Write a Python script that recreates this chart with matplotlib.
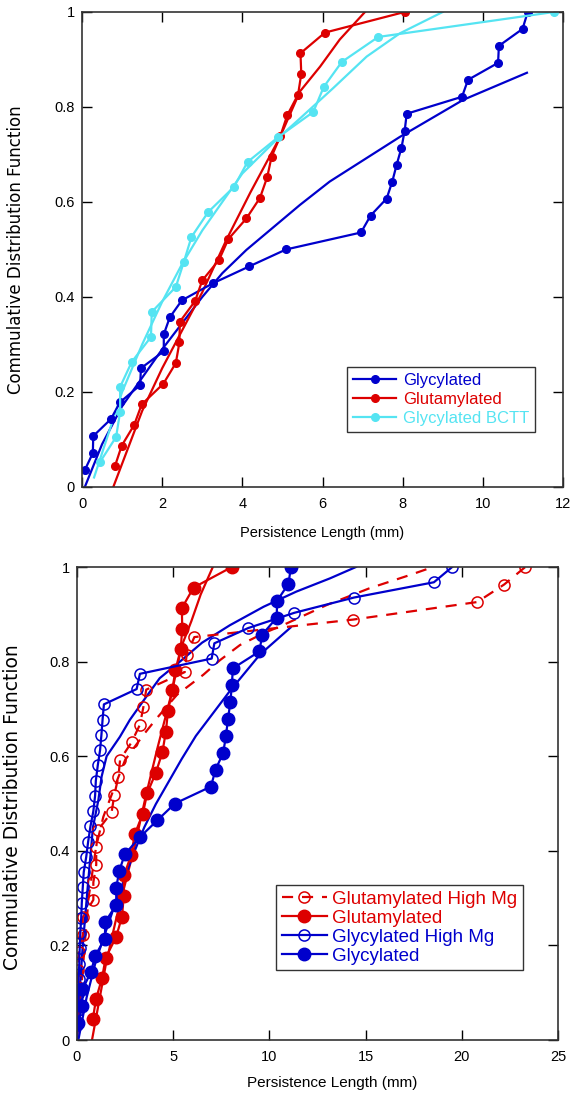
import numpy as np
import matplotlib
matplotlib.use("Agg")
from matplotlib import pyplot as plt

plt.rcParams['font.family'] = ['Liberation Sans', 'DejaVu Sans']

BLUE = '#0000cc'
RED = '#dd0000'
CYAN = '#55e4f2'

# persistence length (mm) of each filament, sorted; CDF step = 1/n
gly_x = [0.07, 0.27, 0.28, 0.72, 0.95, 1.45, 1.47, 2.04, 2.04, 2.19, 2.49, 3.26, 4.17, 5.09,
         6.96, 7.20, 7.60, 7.74, 7.85, 7.97, 8.05, 8.10, 9.48, 9.63, 10.38, 10.40, 10.99, 11.12]
glu_x = [0.82, 0.99, 1.30, 1.49, 2.03, 2.34, 2.43, 2.44, 2.82, 3.00, 3.42, 3.65, 4.10, 4.44,
         4.62, 4.73, 4.95, 5.12, 5.39, 5.47, 5.45, 6.06, 8.05]
bctt_x = [0.45, 0.85, 0.95, 0.95, 1.24, 1.72, 1.74, 2.34, 2.54, 2.73, 3.15, 3.79, 4.13, 4.90,
          5.77, 6.03, 6.48, 7.39, 11.78]
gly_mg_x = [0.02, 0.03, 0.05, 0.08, 0.12, 0.14, 0.17, 0.22, 0.25, 0.30, 0.35, 0.48, 0.58, 0.70,
            0.85, 0.94, 0.98, 1.08, 1.20, 1.27, 1.33, 1.40, 3.10, 3.27, 7.00, 7.14, 8.90, 11.30,
            14.40, 18.55, 19.50]
glu_mg_x = [0.05, 0.06, 0.05, 0.07, 0.10, 0.30, 0.30, 0.85, 0.85, 1.00, 1.00, 1.10, 1.80, 1.94,
            2.15, 2.24, 2.84, 3.27, 3.45, 3.60, 5.60, 5.70, 6.10, 14.36, 20.80, 22.20, 23.30]

# fitted distribution curves (x, F)
gly_fit_x = [0.07, 0.5, 1.0, 1.5, 2.0, 2.5, 3.0, 3.5, 4.1, 5.44, 6.18, 7.93, 9.51, 11.1]
gly_fit_y = [0.0, 0.09, 0.17, 0.23, 0.29, 0.345, 0.40, 0.45, 0.499, 0.594, 0.643, 0.737, 0.815, 0.872]
glu_fit_x = [0.78, 1.5, 2.0, 2.5, 3.0, 3.6, 4.2, 4.93, 5.44, 5.94, 6.43, 7.06]
glu_fit_y = [0.0, 0.16, 0.25, 0.33, 0.41, 0.52, 0.62, 0.735, 0.833, 0.885, 0.942, 1.0]
bctt_fit_x = [0.3, 1.0, 1.5, 2.0, 2.5, 3.0, 3.5, 4.0, 4.9, 5.44, 6.27, 7.1, 7.93, 9.0]
bctt_fit_y = [0.02, 0.2, 0.3, 0.39, 0.47, 0.54, 0.6, 0.66, 0.735, 0.776, 0.84, 0.906, 0.955, 1.0]
gly_mg_fit_x = [0.0, 0.1, 0.3, 0.55, 0.83, 1.11, 1.28, 1.54, 2.23, 2.75, 3.5, 4.3, 5.35, 6.5,
                7.95, 9.7, 11.4, 13.15, 14.5]
gly_mg_fit_y = [0.0, 0.08, 0.2, 0.32, 0.45, 0.507, 0.557, 0.6, 0.641, 0.677, 0.72, 0.765, 0.8, 0.84,
                0.877, 0.916, 0.948, 0.976, 1.0]
glu_mg_fit_x = [0.0, 0.3, 0.6, 1.0, 1.37, 2.0, 2.5, 3.45, 4.14, 5.2, 6.56, 7.43, 8.47, 9.7,
                10.7, 13.0, 15.2, 17.3, 18.5]
glu_mg_fit_y = [0.0, 0.15, 0.3, 0.41, 0.472, 0.54, 0.592, 0.645, 0.68, 0.73, 0.772, 0.803, 0.835,
                0.86, 0.877, 0.92, 0.955, 0.983, 1.0]


def cdf(xs):
    n = len(xs)
    return np.arange(1, n + 1) / n


def style_axes(ax, xmax, xstep, fs):
    ax.set_xlim(0, xmax)
    ax.set_ylim(0, 1)
    ax.set_xticks(np.arange(0, xmax + 0.1, xstep))
    ax.set_yticks([0, 0.2, 0.4, 0.6, 0.8, 1.0])
    ax.set_yticklabels(['0', '0.2', '0.4', '0.6', '0.8', '1'])
    ax.tick_params(direction='in', top=True, right=True, length=7, width=1, labelsize=fs)
    ax.tick_params(axis='x', pad=7)
    ax.tick_params(axis='y', pad=5)
    for s in ax.spines.values():
        s.set_linewidth(1.2)
        s.set_color('#333333')


fig = plt.figure(figsize=(5.72, 11.07), dpi=100)

# --- top panel
ax = fig.add_axes([0.1434, 0.5601, 0.8409, 0.4291])
ax.plot(gly_fit_x, gly_fit_y, color=BLUE, lw=1.6)
ax.plot(glu_fit_x, glu_fit_y, color=RED, lw=1.6)
ax.plot(bctt_fit_x, bctt_fit_y, color=CYAN, lw=1.6)
ax.plot(gly_x, cdf(gly_x), '-o', color=BLUE, lw=1.6, ms=5.5, label='Glycylated')
ax.plot(glu_x, cdf(glu_x), '-o', color=RED, lw=1.6, ms=5.5, label='Glutamylated')
ax.plot(bctt_x, cdf(bctt_x), '-o', color=CYAN, lw=1.6, ms=5.5, label='Glycylated BCTT')
style_axes(ax, 12, 2, 10.5)
ax.set_xlabel('Persistence Length (mm)', fontsize=10.5, labelpad=11)
ax.set_ylabel('Commulative Distribution Function', fontsize=12, family='DejaVu Sans')
ax.yaxis.set_label_coords(-0.118, 0.5)
leg = ax.legend(loc='upper left', bbox_to_anchor=(0.551, 0.253), fontsize=12, labelcolor='linecolor',
                fancybox=False, edgecolor='#333333', framealpha=1, handlelength=2.6,
                borderpad=0.35, labelspacing=0.25, handletextpad=0.4, borderaxespad=0)
leg.get_frame().set_linewidth(1.0)

# --- bottom panel
ax = fig.add_axes([0.1346, 0.0605, 0.8409, 0.4273])
ax.plot(glu_mg_fit_x, glu_mg_fit_y, '--', color=RED, lw=1.6, dashes=(5, 4))
ax.plot(glu_fit_x, glu_fit_y, color=RED, lw=1.6)
ax.plot(gly_mg_fit_x, gly_mg_fit_y, color=BLUE, lw=1.6)
ax.plot(gly_fit_x, gly_fit_y, color=BLUE, lw=1.6)
ax.plot(glu_mg_x, cdf(glu_mg_x), '--o', color=RED, lw=1.6, ms=8, mfc='none', mew=1.1, dashes=(5, 4),
        label='Glutamylated High Mg')
ax.plot(glu_x, cdf(glu_x), '-o', color=RED, lw=1.6, ms=9, label='Glutamylated')
ax.plot(gly_mg_x, cdf(gly_mg_x), '-o', color=BLUE, lw=1.6, ms=8, mfc='none', mew=1.1,
        label='Glycylated High Mg')
ax.plot(gly_x, cdf(gly_x), '-o', color=BLUE, lw=1.6, ms=9, label='Glycylated')
style_axes(ax, 25, 5, 10.5)
ax.set_xlabel('Persistence Length (mm)', fontsize=11, labelpad=8)
ax.xaxis.set_label_coords(0.53, -0.075)
ax.set_ylabel('Commulative Distribution Function', fontsize=13.5, family='DejaVu Sans')
ax.yaxis.set_label_coords(-0.114, 0.493)
leg = ax.legend(loc='upper left', bbox_to_anchor=(0.414, 0.328), fontsize=13.5, labelcolor='linecolor',
                fancybox=False, edgecolor='#333333', framealpha=1, handlelength=2.4,
                borderpad=0.3, labelspacing=0.1, handletextpad=0.3, borderaxespad=0)
leg.get_frame().set_linewidth(1.0)

fig.savefig('out.png', dpi=100)
